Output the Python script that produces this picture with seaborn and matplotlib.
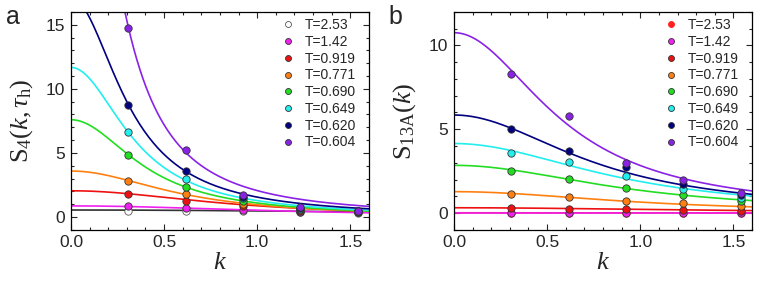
import numpy as np
import pandas as pd
import matplotlib
matplotlib.use('Agg')
import matplotlib.pyplot as plt
import seaborn as sns
from matplotlib.ticker import MultipleLocator
from matplotlib.lines import Line2D

# temperatures and wave vectors
temps = ['T=2.53', 'T=1.42', 'T=0.919', 'T=0.771', 'T=0.690', 'T=0.649', 'T=0.620', 'T=0.604']
k_pts = [0.308, 0.616, 0.924, 1.232, 1.540]

# panel a: S4(k, tau_h) points
s4_253 = [0.49, 0.49, 0.45, 0.38, 0.35]
s4_142 = [0.83, 0.70, 0.55, 0.42, 0.38]
s4_0919 = [1.82, 1.25, 0.85, 0.50, 0.40]
s4_0771 = [2.85, 1.82, 1.05, 0.55, 0.42]
s4_0690 = [4.86, 2.36, 1.25, 0.60, 0.45]
s4_0649 = [6.60, 2.96, 1.45, 0.65, 0.45]
s4_0620 = [8.76, 3.56, 1.60, 0.70, 0.48]
s4_0604 = [14.74, 5.25, 1.74, 0.80, 0.49]
# OZ fit parameters S(0) and xi^2 for panel a
s4_fit_s0 = [0.55, 0.87, 2.05, 3.59, 7.59, 11.67, 17.1, 42.0]
s4_fit_xi2 = [0.15, 0.64, 1.33, 2.74, 5.92, 8.1, 10.0, 19.35]

# panel b: S13A(k) points
s13_253 = [0.02, 0.02, 0.02, 0.02, 0.02]
s13_142 = [0.00, 0.00, 0.00, 0.00, 0.00]
s13_0919 = [0.30, 0.26, 0.22, 0.16, 0.10]
s13_0771 = [1.16, 0.95, 0.72, 0.60, 0.40]
s13_0690 = [2.50, 2.01, 1.51, 1.10, 0.74]
s13_0649 = [3.58, 3.04, 2.19, 1.43, 0.90]
s13_0620 = [5.01, 3.70, 2.77, 1.75, 1.10]
s13_0604 = [8.31, 5.77, 3.00, 1.95, 1.19]
s13_fit_s0 = [0.02, 0.0, 0.32, 1.28, 2.85, 4.15, 5.85, 10.76]
s13_fit_xi2 = [0.3, 0.3, 0.44, 0.95, 1.1, 1.2, 1.65, 2.79]

colors = ['#ffffff', '#f020f0', '#ee1111', '#ff8010', '#22dd22', '#22eeee', '#000080', '#8a22e6']

s4_sets = [s4_253, s4_142, s4_0919, s4_0771, s4_0690, s4_0649, s4_0620, s4_0604]
s13_sets = [s13_253, s13_142, s13_0919, s13_0771, s13_0690, s13_0649, s13_0620, s13_0604]

sns.set_style('ticks')
plt.rcParams['font.family'] = ['Liberation Sans', 'DejaVu Sans']
plt.rcParams['mathtext.fontset'] = 'custom'
plt.rcParams['mathtext.rm'] = 'Liberation Serif'
plt.rcParams['mathtext.it'] = 'Liberation Serif:italic'

fig = plt.figure(figsize=(7.63, 2.87), dpi=100)
ax1 = fig.add_axes([0.093, 0.199, 0.3906, 0.7596])
ax2 = fig.add_axes([0.595, 0.199, 0.3906, 0.7596])

kk = np.linspace(0, 1.6, 200)


def draw(ax, sets, s0s, xi2s, pt_colors, pt_edges, line_colors):
    for i, t in enumerate(temps):
        fit = pd.DataFrame({'k': kk, 'S': s0s[i] / (1 + xi2s[i] * kk ** 2)})
        sns.lineplot(data=fit, x='k', y='S', color=line_colors[i], lw=1.2, ax=ax, zorder=2)
    for i, t in enumerate(temps):
        pts = pd.DataFrame({'k': k_pts, 'S': sets[i]})
        sns.scatterplot(data=pts, x='k', y='S', color=pt_colors[i], edgecolor=pt_edges[i],
                        linewidth=0.6, s=28, ax=ax, zorder=3, clip_on=False)
    handles = [Line2D([], [], ls='', marker='o', markersize=4.3, markerfacecolor=pt_colors[i],
                      markeredgecolor=pt_edges[i], markeredgewidth=0.6) for i in range(len(temps))]
    ax.legend(handles, temps, loc='upper right', bbox_to_anchor=(0.985, 1.01), frameon=False,
              fontsize=10, labelspacing=0.2, handletextpad=0.6, handlelength=1.2, borderaxespad=0.2)


edges_a = ['#555555'] + ['#333333'] * 7
lines_a = ['#333333'] + colors[1:]
draw(ax1, s4_sets, s4_fit_s0, s4_fit_xi2, colors, edges_a, lines_a)

colors_b = ['#ff2020'] + colors[1:]
edges_b = ['#ff2020'] + ['#333333'] * 7
draw(ax2, s13_sets, s13_fit_s0, s13_fit_xi2, colors_b, edges_b, colors_b)

ax1.set_xlim(0, 1.6)
ax1.set_ylim(-1, 16)
ax2.set_xlim(0, 1.6)
ax2.set_ylim(-1, 12)
ax1.yaxis.set_major_locator(MultipleLocator(5))
ax2.yaxis.set_major_locator(MultipleLocator(5))

for ax in (ax1, ax2):
    ax.xaxis.set_major_locator(MultipleLocator(0.5))
    ax.xaxis.set_minor_locator(MultipleLocator(0.1))
    ax.yaxis.set_minor_locator(MultipleLocator(1))
    ax.xaxis.set_major_formatter(matplotlib.ticker.FormatStrFormatter('%.1f'))
    ax.tick_params(which='both', direction='in', top=True, right=True, labelsize=12.5, width=0.8)
    ax.tick_params(which='major', length=4, pad=4)
    ax.tick_params(which='minor', length=2)
    for sp in ax.spines.values():
        sp.set_linewidth(0.9)
        sp.set_color('black')
    ax.set_xlabel(r'$k$', fontsize=19, labelpad=0)

ax1.set_ylabel(r'$\mathrm{S}_{4}(k,\tau_{\mathrm{h}})$', fontsize=19, labelpad=8)
ax2.set_ylabel(r'$\mathrm{S}_{13\mathrm{A}}(k)$', fontsize=19, labelpad=8)

fig.text(0.008, 0.915, 'a', fontsize=18)
fig.text(0.509, 0.915, 'b', fontsize=18)

fig.savefig('out.png', dpi=100)
